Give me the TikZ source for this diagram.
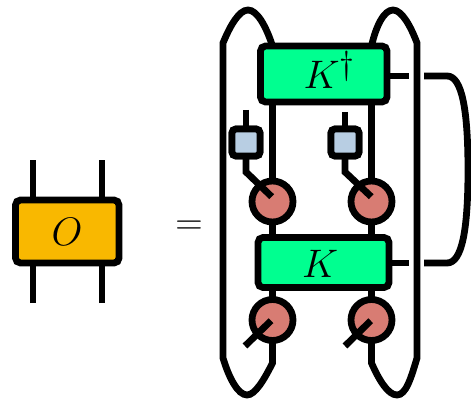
\documentclass[tikz,border=0pt]{standalone}
\usepackage{graphicx}
\usetikzlibrary{calc}
\pgfdeclarelayer{under}
\pgfsetlayers{under,main}
\definecolor{kgreen}{HTML}{00FF90}
\definecolor{oorange}{HTML}{F9B800}
\definecolor{cred}{HTML}{D87C73}
\definecolor{sblue}{HTML}{B8CEE3}
\newcommand{\biglab}[1]{\scalebox{1.6}{\Huge$#1$}}
\tikzset{
  x=1pt,y=-1pt,
  wire/.style={line width=6.8pt,line cap=butt,line join=miter,black},
  tbox/.style={draw=black,line width=6.8pt,rounded corners=5pt,inner sep=0pt,outer sep=0pt,minimum width=#1},
  site/.style={draw=black,fill=cred,line width=6.8pt,circle,inner sep=0pt,outer sep=0pt,minimum size=41pt},
  gate/.style={draw=black,fill=sblue,line width=6.8pt,rounded corners=4pt,inner sep=0pt,outer sep=0pt,minimum width=28pt,minimum height=27pt},
  lab/.style={inner sep=0pt,outer sep=0pt}
}
\begin{document}
\begin{tikzpicture}
\useasboundingbox (0,0) rectangle (471,401);
% left tensor
\node[tbox=103.5pt,minimum height=63pt,fill=oorange] (O) at (67.25,231.5) {};
\node[lab] (Olab) at (67,232) {\biglab{O}};
\coordinate (Ot1) at (33,160); \coordinate (Ot2) at (102,160);
\coordinate (Ob1) at (33,303); \coordinate (Ob2) at (102,303);
\node[lab] (eq) at (189,228) {\scalebox{1.527}{\Huge$=$}};
% right network
\node[tbox=126.5pt,minimum height=56pt,fill=kgreen] (Kd) at (323.75,74) {};
\node[tbox=131pt,minimum height=50pt,fill=kgreen] (K) at (323.5,262.5) {};
\node[lab,anchor=base west] (Kdlab) at (303.5,89) {\biglab{K^\dagger}};
\node[lab,anchor=base west] (Klab) at (302,277) {\biglab{K}};
\node[site] (c1) at (272.5,201.5) {};
\node[site] (c2) at (371.5,201.5) {};
\node[site] (c3) at (272.5,320) {};
\node[site] (c4) at (371.5,320) {};
\node[gate] (g1) at (246,142.5) {};
\node[gate] (g2) at (345,142.5) {};
\coordinate (gt1) at (246,110); \coordinate (gt2) at (345,112);
\coordinate (gb1) at (246,172); \coordinate (gb2) at (345,172);
\coordinate (e1) at (271.7,196.7); \coordinate (e2) at (371.2,196.7);
\coordinate (f3) at (245,346); \coordinate (f4) at (345,346);
\coordinate (h3) at (271,320.7); \coordinate (h4) at (370.7,320.7);
\coordinate (sr1) at (409,76); \coordinate (sr2) at (409,263);
\coordinate (lr1) at (424,76); \coordinate (lr2) at (424,263);
\coordinate (L1) at (223,43); \coordinate (L2) at (223,358);
\coordinate (R1) at (417,43); \coordinate (R2) at (417,358);
\coordinate (bl) at (272.5,363); \coordinate (br) at (371.5,363);
\begin{pgfonlayer}{under}
\draw[wire] (Ot1) -- (Ot1 |- O.north);
\draw[wire] (Ot2) -- (Ot2 |- O.north);
\draw[wire] (Ob1) -- (Ob1 |- O.south);
\draw[wire] (Ob2) -- (Ob2 |- O.south);
\draw[wire] (Kd.south -| c1) -- (c1);
\draw[wire] (Kd.south -| c2) -- (c2);
\draw[wire] (c1) -- (K.north -| c1);
\draw[wire] (c2) -- (K.north -| c2);
\draw[wire] (K.south -| c3) -- (c3);
\draw[wire] (K.south -| c4) -- (c4);
\draw[wire] (gt1) -- (g1);
\draw[wire] (gt2) -- (g2);
\draw[wire] (Kd.east |- sr1) -- (sr1);
\draw[wire] (K.east |- sr2) -- (sr2);
\draw[wire] (Kd.north -| c1)
  .. controls (266,26) and (257,10) .. (248,10)
  .. controls (239,10) and (230,26) .. (L1) -- (L2)
  .. controls (229,378) and (238,395) .. (247,395)
  .. controls (255,395) and (264,380) .. (bl) -- (c3);
\draw[wire] (Kd.north -| c2)
  .. controls (376,26) and (384,10) .. (393,10)
  .. controls (402,10) and (411,27) .. (R1) -- (R2)
  .. controls (411,378) and (406,395) .. (397,395)
  .. controls (388,395) and (379,380) .. (br) -- (c4);
\draw[wire] (lr1) -- (447,76)
  .. controls (462,76) and (468,110) .. (468,170)
  .. controls (468,230) and (462,263) .. (447,263) -- (lr2);
\end{pgfonlayer}
\draw[wire] (g1) -- (gb1) -- (e1);
\draw[wire] (g2) -- (gb2) -- (e2);
\node[gate] at (g1) {};
\node[gate] at (g2) {};
\draw[wire] (f3) -- (h3);
\draw[wire] (f4) -- (h4);
\end{tikzpicture}
\end{document}
